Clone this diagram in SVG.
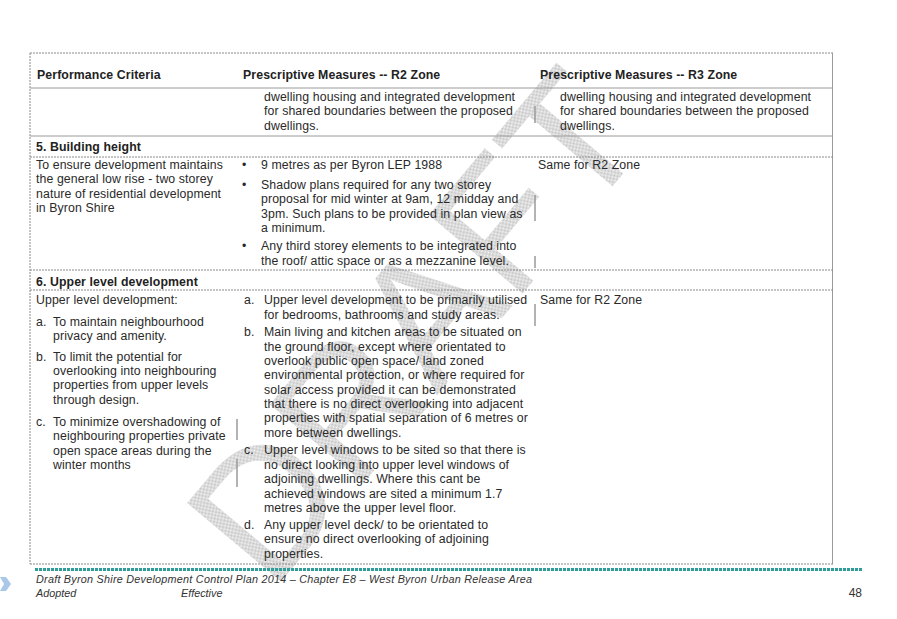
<svg xmlns="http://www.w3.org/2000/svg" width="897" height="619" viewBox="0 0 897 619">
<style>
.t{font-family:"Liberation Sans",Arial,sans-serif;font-size:12.3px;letter-spacing:0.1px;fill:#2a2a2a}
.b{font-family:"Liberation Sans",Arial,sans-serif;font-size:12.3px;font-weight:bold;letter-spacing:0.1px;fill:#222}
.f{font-family:"Liberation Sans",Arial,sans-serif;font-size:10.8px;font-style:italic;fill:#333}
.g{stroke:#9a9a9a;stroke-width:1;fill:none}
.d{stroke:#8a8a8a;stroke-width:1;stroke-dasharray:2 1;fill:none}
.bar{stroke:#9a9a9a;stroke-width:1.5}
</style>
<defs>
<pattern id="hatch" width="2" height="2" patternUnits="userSpaceOnUse">
<rect width="2" height="2" fill="#f4f4f4"/>
<rect width="1" height="1" fill="#c2c2c2"/>
<rect x="1" y="1" width="1" height="1" fill="#c2c2c2"/>
</pattern>
</defs>
<rect width="897" height="619" fill="#fff"/>
<g id="watermark">
<text x="0" y="63" text-anchor="middle" transform="translate(414,325) rotate(-50)" font-family="Liberation Sans, Arial, sans-serif" font-size="178" fill="url(#hatch)">DRAFT</text>
</g>
<g id="grid">
<line class="d" x1="30" y1="53" x2="833" y2="53"/>
<line class="d" x1="30" y1="53" x2="30" y2="564"/>
<line class="g" x1="832.5" y1="53" x2="832.5" y2="564"/>
<line class="g" x1="30" y1="88" x2="833" y2="88"/>
<line class="g" x1="30" y1="136" x2="833" y2="136"/>
<line class="d" x1="30" y1="157" x2="833" y2="157"/>
<line class="d" x1="30" y1="270" x2="833" y2="270"/>
<line class="d" x1="30" y1="290" x2="833" y2="290"/>
<line class="d" x1="30" y1="564" x2="833" y2="564"/>
<line x1="35" y1="569.5" x2="863" y2="569.5" stroke="#2f9d99" stroke-width="3" stroke-dasharray="3 1"/>
<line class="bar" x1="535" y1="106" x2="535" y2="123"/>
<line class="bar" x1="535" y1="195" x2="535" y2="221"/>
<line class="bar" x1="535" y1="256" x2="535" y2="268"/>
<line class="bar" x1="535" y1="304" x2="535" y2="326"/>
<line class="bar" x1="237" y1="419" x2="237" y2="440"/>
<line class="bar" x1="237" y1="459" x2="237" y2="487"/>
</g>
<g id="header">
<text class="b" x="37" y="78.5">Performance Criteria</text>
<text class="b" x="243" y="78.5">Prescriptive Measures -- R2 Zone</text>
<text class="b" x="540" y="78.5">Prescriptive Measures -- R3 Zone</text>
</g>
<g id="row-continued">
<text class="t" x="264" y="100.5">dwelling housing and integrated development</text>
<text class="t" x="264" y="115">for shared boundaries between the proposed</text>
<text class="t" x="264" y="129.5">dwellings.</text>
<text class="t" x="560" y="100.5">dwelling housing and integrated development</text>
<text class="t" x="560" y="115">for shared boundaries between the proposed</text>
<text class="t" x="560" y="129.5">dwellings.</text>
</g>
<g id="heading-5">
<text class="b" x="36" y="150.5">5. Building height</text>
</g>
<g id="row-5">
<text class="t" x="36" y="168.5">To ensure development maintains</text>
<text class="t" x="36" y="183">the general low rise - two storey</text>
<text class="t" x="36" y="197.5">nature of residential development</text>
<text class="t" x="36" y="212">in Byron Shire</text>
<text class="t" x="242" y="168.5">•</text>
<text class="t" x="261" y="168.5">9 metres as per Byron LEP 1988</text>
<text class="t" x="242" y="188.5">•</text>
<text class="t" x="261" y="188.5">Shadow plans required for any two storey</text>
<text class="t" x="261" y="203">proposal for mid winter at 9am, 12 midday and</text>
<text class="t" x="261" y="217.5">3pm. Such plans to be provided in plan view as</text>
<text class="t" x="261" y="232">a minimum.</text>
<text class="t" x="242" y="250">•</text>
<text class="t" x="261" y="250">Any third storey elements to be integrated into</text>
<text class="t" x="261" y="264.5">the roof/ attic space or as a mezzanine level.</text>
<text class="t" x="538" y="168.5">Same for R2 Zone</text>
</g>
<g id="heading-6">
<text class="b" x="36" y="285.5">6. Upper level development</text>
</g>
<g id="row-6">
<text class="t" x="36" y="303.5">Upper level development:</text>
<text class="t" x="36" y="325.5">a.</text>
<text class="t" x="53" y="325.5">To maintain neighbourhood</text>
<text class="t" x="53" y="340">privacy and amenity.</text>
<text class="t" x="36" y="360.5">b.</text>
<text class="t" x="53" y="360.5">To limit the potential for</text>
<text class="t" x="53" y="375">overlooking into neighbouring</text>
<text class="t" x="53" y="389">properties from upper levels</text>
<text class="t" x="53" y="403.5">through design.</text>
<text class="t" x="36" y="425.5">c.</text>
<text class="t" x="53" y="425.5">To minimize overshadowing of</text>
<text class="t" x="53" y="440">neighbouring properties private</text>
<text class="t" x="53" y="454.5">open space areas during the</text>
<text class="t" x="53" y="469">winter months</text>
<text class="t" x="244" y="304">a.</text>
<text class="t" x="264" y="304">Upper level development to be primarily utilised</text>
<text class="t" x="264" y="318.5">for bedrooms, bathrooms and study areas.</text>
<text class="t" x="244" y="336">b.</text>
<text class="t" x="264" y="336">Main living and kitchen areas to be situated on</text>
<text class="t" x="264" y="350.5">the ground floor, except where orientated to</text>
<text class="t" x="264" y="364.5">overlook public open space/ land zoned</text>
<text class="t" x="264" y="379">environmental protection, or where required for</text>
<text class="t" x="264" y="393.5">solar access provided it can be demonstrated</text>
<text class="t" x="264" y="407.5">that there is no direct overlooking into adjacent</text>
<text class="t" x="264" y="422">properties with spatial separation of 6 metres or</text>
<text class="t" x="264" y="436.5">more between dwellings.</text>
<text class="t" x="244" y="454">c.</text>
<text class="t" x="264" y="454">Upper level windows to be sited so that there is</text>
<text class="t" x="264" y="468.5">no direct looking into upper level windows of</text>
<text class="t" x="264" y="483">adjoining dwellings. Where this cant be</text>
<text class="t" x="264" y="497.5">achieved windows are sited a minimum 1.7</text>
<text class="t" x="264" y="511.5">metres above the upper level floor.</text>
<text class="t" x="244" y="528.5">d.</text>
<text class="t" x="264" y="528.5">Any upper level deck/ to be orientated to</text>
<text class="t" x="264" y="543">ensure no direct overlooking of adjoining</text>
<text class="t" x="264" y="557.5">properties.</text>
<text class="t" x="540" y="304">Same for R2 Zone</text>
</g>
<g id="footer">
<polygon points="0,577 6,577 11,584 6,591 0,591 4,584" fill="#a9c8ea"/>
<text class="f" x="36" y="583" textLength="496" lengthAdjust="spacing">Draft Byron Shire Development Control Plan 2014 – Chapter E8 – West Byron Urban Release Area</text>
<text class="f" x="36" y="597">Adopted</text>
<text class="f" x="181" y="597">Effective</text>
<text x="862" y="597" text-anchor="end" font-family="Liberation Sans, Arial, sans-serif" font-size="12" fill="#333">48</text>
</g>
</svg>
